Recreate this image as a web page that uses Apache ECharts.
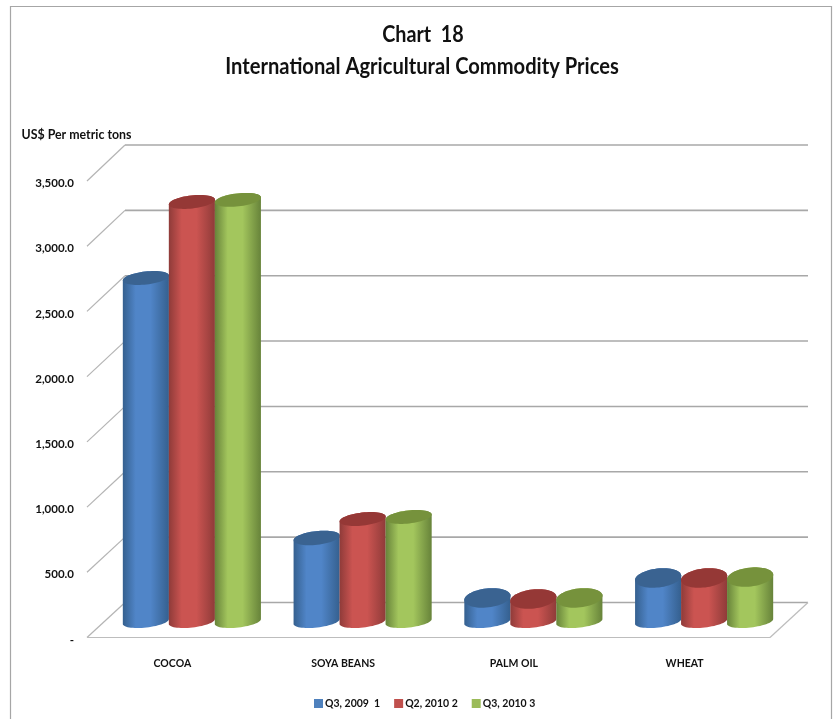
<!DOCTYPE html>
<html><head><meta charset="utf-8">
<style>html,body{margin:0;padding:0;background:#fff}#c{width:840px;height:719px}</style>
<script src="https://cdn.jsdelivr.net/npm/echarts@6/dist/echarts.min.js"></script>
</head><body><div id="c"></div>
<script>
const categories = ['COCOA','SOYA BEANS','PALM OIL','WHEAT'];
const seriesNames = ['Q3, 2009  1','Q2, 2010 2','Q3, 2010 3'];
const q3_2009 = [2603,610,150,303];
const q2_2010 = [3186,755,142,303];
const q3_2010 = [3202,771,150,310];
const yTicks = [0,500,1000,1500,2000,2500,3000,3500];
const seriesValues = [q3_2009,q2_2010,q3_2010];

const FONT = 'Lato, "Open Sans", sans-serif';
const legendColors = ['#4f81bd','#c0504d','#9bbb59'];
const shades = [
  {edge:'#35608f', mid:'#5085c8', top:'#3a6391'},
  {edge:'#8f3b39', mid:'#cb5451', top:'#953836'},
  {edge:'#67833a', mid:'#a3c65d', top:'#76923c'}
];
const depthX = 38, depthY = -35;      // oblique offset of the back wall
const midX = 19.5, midY = -20, baseY = -16;  // cylinders stand at mid depth
const rx = 23.2, tilt = -6.5*Math.PI/180;

function ellipsePts(cx,cy,ry,from,to,n){
  const out=[], ca=Math.cos(tilt), sa=Math.sin(tilt);
  for(let i=0;i<=n;i++){
    const t=from+(to-from)*i/n, ex=rx*Math.cos(t), ey=ry*Math.sin(t);
    out.push([cx+ex*ca-ey*sa, cy+ex*sa+ey*ca]);
  }
  return out;
}
function renderCylinder(sIdx){
  return function(params,api){
    const cat=api.value(0), v=api.value(1);
    const t=api.coord([cat,v]), b=api.coord([cat,0]);
    const cx=t[0]+midX+(sIdx-1)*46;
    const topY=t[1]+midY, botY=b[1]+baseY;
    const ryTop=6.5+3*Math.min(1,Math.max(0,(650-v)/350)), ryBot=6;
    const s=shades[sIdx];
    const pts=ellipsePts(cx,botY,ryBot,0,Math.PI,30)
      .concat(ellipsePts(cx,topY,ryTop,Math.PI,2*Math.PI,30));
    const grad=new echarts.graphic.LinearGradient(0,0,1,0,[
      {offset:0,color:s.edge},{offset:0.28,color:s.mid},{offset:0.6,color:s.mid},{offset:1,color:s.edge}
    ]);
    return {type:'group',children:[
      {type:'polygon',shape:{points:pts},style:{fill:grad}},
      {type:'polygon',shape:{points:ellipsePts(cx,topY,ryTop,0,2*Math.PI,60)},style:{fill:s.top}}
    ]};
  };
}
function renderWall(params,api){
  const v=api.value(0), p=api.coord([0,v]);
  const g=params.coordSys, x0=g.x, x1=g.x+g.width;
  const back=p[1]+depthY-(v/3500);
  const children=[
    {type:'line',shape:{x1:x0,y1:p[1],x2:x0+depthX,y2:back},style:{stroke:'#b4b4b4',lineWidth:1.2}},
    {type:'line',shape:{x1:x0+depthX,y1:back,x2:x1+depthX,y2:back},style:{stroke:'#a8a8a8',lineWidth:1.6}}
  ];
  if(v===0){
    children.push({type:'line',shape:{x1:x0,y1:p[1],x2:x1,y2:p[1]},style:{stroke:'#bdbdbd',lineWidth:1.2}});
    children.push({type:'line',shape:{x1:x1,y1:p[1],x2:x1+depthX,y2:back},style:{stroke:'#bdbdbd',lineWidth:1.2}});
  }
  return {type:'group',children};
}
function squeezed(text,x,y,size,scaleX){
  return {type:'text',silent:true,x,y,scaleX,
    style:{text,fill:'#111',font:'bold '+size+'px '+FONT,textAlign:'center',textVerticalAlign:'middle'}};
}
const chart=echarts.init(document.getElementById('c'),null,{renderer:'canvas'});
chart.setOption({
  animation:false,
  backgroundColor:'#fff',
  legend:{
    data:seriesNames,top:693,left:309,icon:'rect',itemWidth:9,itemHeight:9,itemGap:14,
    textStyle:{fontFamily:FONT,fontSize:10.5,fontWeight:'bold',color:'#111',padding:[0,0,0,-3]}
  },
  grid:{left:87,right:70,top:181,bottom:81.5},
  xAxis:{type:'category',data:categories,
    axisLine:{show:false},axisTick:{show:false},splitLine:{show:false},
    axisLabel:{margin:21,fontFamily:FONT,fontSize:10.5,fontWeight:'bold',color:'#111'}},
  yAxis:{type:'value',min:0,max:3500,interval:500,
    axisLine:{show:false},axisTick:{show:false},splitLine:{show:false},
    axisLabel:{margin:13,fontFamily:FONT,fontSize:11.5,fontWeight:'bold',color:'#111',verticalAlign:'top',lineHeight:5,
      formatter:v=>v===0?'-':v.toLocaleString('en-US',{minimumFractionDigits:1,maximumFractionDigits:1})}},
  graphic:[
    {type:'polyline',silent:true,shape:{points:[[10.5,760],[10.5,6.5],[831.5,6.5],[831.5,760]]},
      style:{stroke:'#a6a6a6',lineWidth:1.2,fill:null},z:-1},
    squeezed('Chart  18',423,35,23,0.86),
    squeezed('International Agricultural Commodity Prices',422,67,23,0.876),
    squeezed('US$ Per metric tons',76.5,135,13,0.95)
  ],
  series:[
    {type:'custom',name:'wall',silent:true,z:1,data:yTicks.map(v=>[v]),encode:{y:0},renderItem:renderWall}
  ].concat(seriesNames.map((n,i)=>({
    type:'custom',name:n,z:2+i,
    itemStyle:{color:legendColors[i]},
    data:seriesValues[i].map((v,c)=>[c,v]),
    encode:{x:0,y:1},
    renderItem:renderCylinder(i)
  })))
});
</script></body></html>
